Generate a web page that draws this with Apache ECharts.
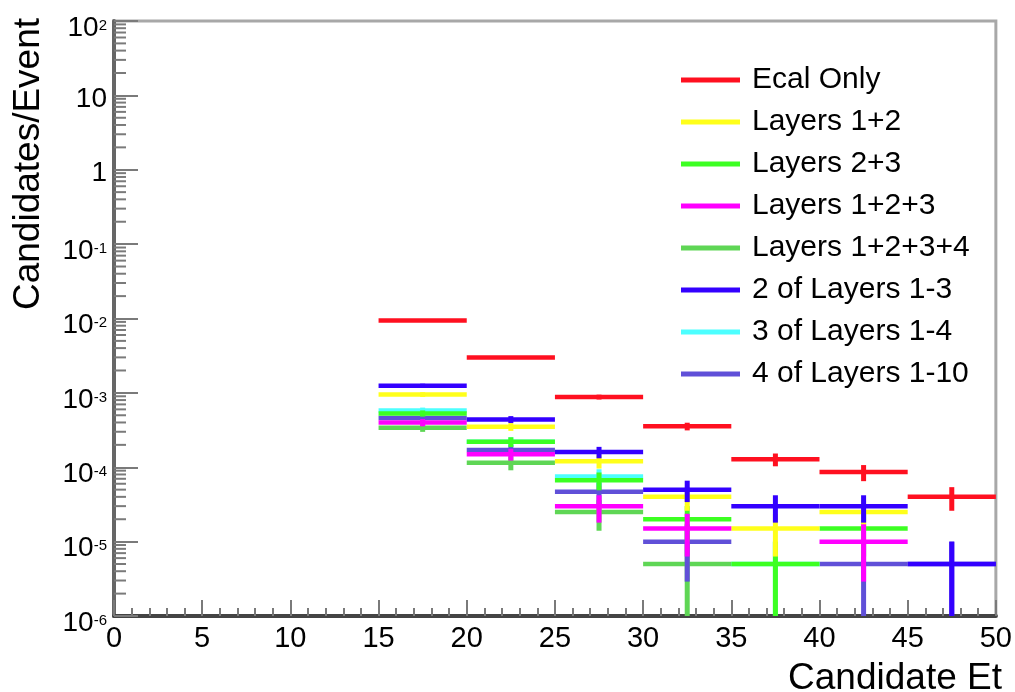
<!DOCTYPE html>
<html>
<head>
<meta charset="utf-8">
<script src="https://cdn.jsdelivr.net/npm/echarts@6/dist/echarts.min.js"></script>
<style>
  html, body { margin: 0; padding: 0; background: #fff; }
  #chart { width: 1015px; height: 692px; }
</style>
</head>
<body>
<div id="chart"></div>
<script>
// Bin edges of the candidate Et histogram (GeV)
const binEdges = [15, 20, 25, 30, 35, 40, 45, 50];

// Candidates per event in each bin, with statistical errors (null = empty bin)
const ecalOnly      = [9.4e-3, 3.0e-3, 8.8e-4, 3.55e-4, 1.28e-4, 8.6e-5, 4.0e-5];
const ecalOnlyErr   = [2.2e-4, 1.2e-4, 6.6e-5, 4.2e-5, 2.5e-5, 2.1e-5, 1.4e-5];
const layers12      = [9.5e-4, 3.5e-4, 1.2e-4, 4.0e-5, 1.5e-5, 2.5e-5, null];
const layers12Err   = [6.9e-5, 4.2e-5, 2.4e-5, 1.4e-5, 8.7e-6, 1.1e-5, null];
const layers23      = [5.3e-4, 2.2e-4, 6.7e-5, 2.0e-5, 5.0e-6, 1.5e-5, null];
const layers23Err   = [5.1e-5, 3.3e-5, 1.8e-5, 1.0e-5, 5.0e-6, 8.7e-6, null];
const layers123     = [4.0e-4, 1.5e-4, 3.0e-5, 1.5e-5, null, 1.0e-5, null];
const layers123Err  = [4.5e-5, 2.7e-5, 1.2e-5, 8.7e-6, null, 7.1e-6, null];
const layers1234    = [3.4e-4, 1.15e-4, 2.5e-5, 5.0e-6, null, null, null];
const layers1234Err = [4.1e-5, 2.4e-5, 1.1e-5, 5.0e-6, null, null, null];
const twoOf13       = [1.25e-3, 4.4e-4, 1.6e-4, 5.0e-5, 3.0e-5, 3.0e-5, 5.0e-6];
const twoOf13Err    = [7.9e-5, 4.7e-5, 2.8e-5, 1.6e-5, 1.2e-5, 1.2e-5, 5.0e-6];
const threeOf14     = [5.8e-4, 2.2e-4, 7.5e-5, null, 5.0e-6, null, null];
const threeOf14Err  = [5.4e-5, 3.3e-5, 1.9e-5, null, 5.0e-6, null, null];
const fourOf110     = [4.6e-4, 1.7e-4, 4.7e-5, 1.0e-5, null, 5.0e-6, 5.0e-6];
const fourOf110Err  = [4.8e-5, 2.9e-5, 1.5e-5, 7.1e-6, null, 5.0e-6, 5.0e-6];

// Axis ranges
const xMin = 0, xMax = 50, xStep = 5;
const yMin = 1e-6, yMax = 1e2;

const FONT = '"Liberation Sans", Arial, Helvetica, sans-serif';

// name, values, errors, colour, drawing order
const histos = [
  ['Ecal Only',         ecalOnly,   ecalOnlyErr,   '#ff1020', 2],
  ['Layers 1+2',        layers12,   layers12Err,   '#ffff1a', 7],
  ['Layers 2+3',        layers23,   layers23Err,   '#3cff22', 6],
  ['Layers 1+2+3',      layers123,  layers123Err,  '#ff00ff', 8],
  ['Layers 1+2+3+4',    layers1234, layers1234Err, '#5fd655', 3],
  ['2 of Layers 1-3',   twoOf13,    twoOf13Err,    '#3300ff', 9],
  ['3 of Layers 1-4',   threeOf14,  threeOf14Err,  '#4dffff', 5],
  ['4 of Layers 1-10',  fourOf110,  fourOf110Err,  '#6050d8', 4]
];

// Horizontal bin segment plus vertical error bar at the bin centre
function renderBin(params, api) {
  const lo = api.value(0), hi = api.value(1), v = api.value(2), e = api.value(3);
  const color = api.visual('color');
  const a = api.coord([lo, v]);
  const b = api.coord([hi, v]);
  const xc = (lo + hi) / 2;
  const top = api.coord([xc, v + e]);
  const bot = api.coord([xc, Math.max(v - e, yMin)]);
  return {
    type: 'group',
    children: [
      { type: 'line', shape: { x1: top[0], y1: top[1], x2: bot[0], y2: bot[1] },
        style: { stroke: color, lineWidth: 5 } },
      { type: 'line', shape: { x1: a[0], y1: a[1], x2: b[0], y2: b[1] },
        style: { stroke: color, lineWidth: 4.5 } }
    ]
  };
}

const series = histos.map(([name, vals, errs, color, z]) => ({
  name,
  type: 'custom',
  z,
  renderItem: renderBin,
  itemStyle: { color },
  encode: { x: [0, 1], y: 2 },
  data: vals.map((v, i) => v == null ? null : [binEdges[i], binEdges[i + 1], v, errs[i]])
            .filter(d => d !== null)
}));

// Minor ticks 2..9 inside each decade of the log axis
const yMinorTicks = [];
for (let e = -6; e < 2; e++) {
  for (let k = 2; k <= 9; k++) yMinorTicks.push([xMin, k * Math.pow(10, e)]);
}
series.push({
  type: 'custom',
  silent: true,
  z: 1,
  renderItem: (params, api) => {
    const p = api.coord([api.value(0), api.value(1)]);
    return { type: 'line', shape: { x1: p[0], y1: p[1], x2: p[0] + 12, y2: p[1] },
             style: { stroke: '#7a7a7a', lineWidth: 2 } };
  },
  data: yMinorTicks
});

function yLabel(v) {
  const e = Math.round(Math.log10(v));
  if (e === 0) return '{p|1}';
  if (e === 1) return '{p|10}';
  return '{b|10}{s|' + e + '}';
}

const chart = echarts.init(document.getElementById('chart'), null, { renderer: 'canvas' });
chart.setOption({
  animation: false,
  backgroundColor: '#ffffff',
  grid: {
    left: 114, right: 15, top: 20, bottom: 76,
    show: true, borderColor: '#a8a8a8', borderWidth: 3, backgroundColor: 'transparent'
  },
  legend: {
    orient: 'vertical',
    left: 681, top: 65,
    padding: 0,
    itemGap: 12,
    itemWidth: 59, itemHeight: 5,
    icon: 'rect',
    selectedMode: false,
    textStyle: { fontFamily: FONT, fontSize: 30, lineHeight: 30, color: '#000', padding: [0, 0, 0, 7] },
    data: histos.map(h => h[0])
  },
  xAxis: {
    type: 'value',
    min: xMin, max: xMax, interval: xStep,
    axisLine: { show: true, onZero: false, lineStyle: { color: '#444', width: 4 } },
    axisTick: { show: true, inside: true, length: 16, lineStyle: { color: '#7a7a7a', width: 2 } },
    minorTick: { show: true, splitNumber: 5, length: 8, lineStyle: { color: '#7a7a7a', width: 2 } },
    axisLabel: { fontFamily: FONT, fontSize: 29, color: '#000', margin: 8 },
    splitLine: { show: false }
  },
  yAxis: {
    type: 'log',
    logBase: 10,
    min: yMin, max: yMax,
    splitNumber: 8,
    axisLine: { show: true, lineStyle: { color: '#666', width: 4 } },
    axisTick: { show: true, inside: true, length: 24, lineStyle: { color: '#7a7a7a', width: 2 } },
    axisLabel: {
      margin: 7,
      color: '#000',
      formatter: yLabel,
      rich: {
        p: { fontFamily: FONT, fontSize: 28, lineHeight: 28, padding: [8, 0, 0, 0] },
        b: { fontFamily: FONT, fontSize: 28, lineHeight: 28, padding: [14, 0, 0, 0] },
        s: { fontFamily: FONT, fontSize: 15, lineHeight: 15, padding: [11, 0, 0, 0], verticalAlign: 'top' }
      }
    },
    splitLine: { show: false }
  },
  graphic: [
    {
      type: 'text', x: 29, y: 164, rotation: Math.PI / 2,
      style: { text: 'Candidates/Event', font: '37px ' + FONT, fill: '#000',
               align: 'center', verticalAlign: 'middle', textAlign: 'center', textVerticalAlign: 'middle' }
    },
    {
      type: 'text', x: 1002, y: 679,
      style: { text: 'Candidate Et', font: '37px ' + FONT, fill: '#000',
               align: 'right', verticalAlign: 'middle', textAlign: 'right', textVerticalAlign: 'middle' }
    }
  ],
  series
});
</script>
</body>
</html>
